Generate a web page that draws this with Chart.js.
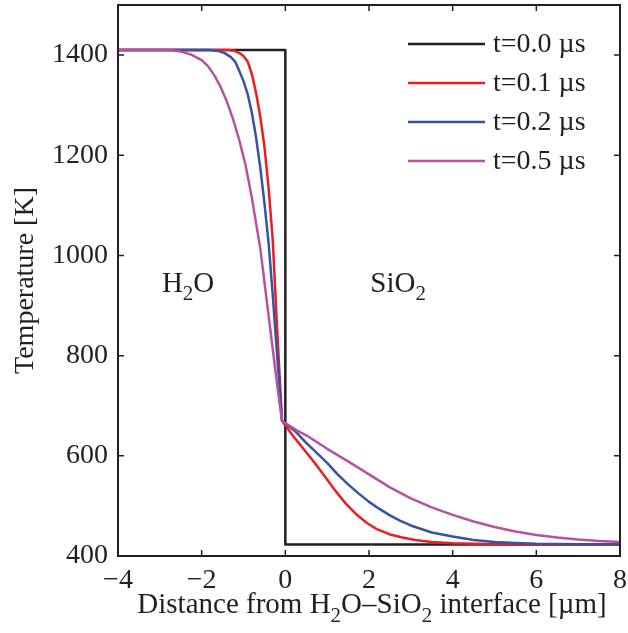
<!DOCTYPE html>
<html>
<head>
<meta charset="utf-8">
<script src="https://cdn.jsdelivr.net/npm/chart.js@4.4.0/dist/chart.umd.min.js"></script>
<style>
    html, body { margin: 0; padding: 0; background: #fff; }
    #grafico { display: block; }
</style>
</head>
<body>
<canvas id="grafico" width="628" height="633"></canvas>
<script>
// ticks
var xTicks = [-4, -2, 0, 2, 4, 6, 8]
var yTicks = [400, 600, 800, 1000, 1200, 1400]

var legendas = ['t=0.0 µs', 't=0.1 µs', 't=0.2 µs', 't=0.5 µs']
var cores = ['#231f20', '#ed1c24', '#3953a4', '#b6529f']

// t = 0.0 us
var distT0 = [-4, 0, 0, 8]
var tempT0 = [1410, 1410, 423, 423]

// t = 0.1 us
var distT1 = [-4, -1.35, -1.2, -1.1, -1.0, -0.9, -0.8, -0.7, -0.6, -0.5, -0.4, -0.3, -0.2, -0.08,
              0.2, 0.45, 0.7, 0.95, 1.2, 1.45, 1.7, 1.95, 2.2, 2.5, 2.8, 3.1, 3.5, 4, 5, 6, 8]
var tempT1 = [1410, 1410, 1408, 1404, 1398, 1387, 1362, 1325, 1278, 1218, 1135, 1030, 860, 670,
              638, 612, 586, 558, 530, 504, 483, 466, 453, 443, 437, 432, 428, 425.5, 423.5, 423, 423]

// t = 0.2 us
var distT2 = [-4, -1.8, -1.6, -1.45, -1.3, -1.2, -1.1, -1.0, -0.9, -0.8, -0.7, -0.6, -0.5, -0.4, -0.3, -0.2, -0.08,
              0.25, 0.5, 0.75, 1.0, 1.25, 1.5, 1.75, 2.0, 2.25, 2.5, 2.75, 3.0, 3.5, 4.0, 4.5, 5, 5.5, 6, 7, 8]
var tempT2 = [1410, 1410, 1408, 1404, 1396, 1387, 1368, 1348, 1322, 1285, 1236, 1176, 1105, 1025, 920, 805, 670,
              648, 626, 606, 586, 563, 543, 525, 508, 494, 481, 470, 461, 447, 439, 432, 428, 426, 424.5, 423.5, 423]

// t = 0.5 us
var distT5 = [-4, -2.75, -2.5, -2.25, -2.0, -1.85, -1.7, -1.55, -1.4, -1.25, -1.1, -0.95, -0.8, -0.6, -0.4, -0.2, -0.08,
              0.25, 0.5, 1.0, 1.5, 2.0, 2.5, 3.0, 3.5, 4.0, 4.5, 5.0, 5.5, 6.0, 6.5, 7.0, 7.5, 8]
var tempT5 = [1410, 1410, 1407, 1401, 1390, 1378, 1360, 1337, 1308, 1272, 1230, 1180, 1115, 1015, 880, 745, 670,
              652, 641, 614, 589, 563, 537, 515, 497, 482, 469, 458, 449, 442, 437, 433, 430, 428]

var FONTE = '"Liberation Serif", "Times New Roman", serif'
var COR_EIXO = '#231f20'

function pontos(xs, ys){
    return xs.map(function(x, i){ return { x: x, y: ys[i] } })
}

// texto com indice: '_' antes de um caractere = subscrito
function textoComIndice(ctx, texto, x, y, tamanho, alinhar){
    var partes = []
    for (var i = 0; i < texto.length; i++){
        if (texto[i] == '_'){
            partes.push({ t: texto[i + 1], sub: true })
            i++
        } else {
            if (partes.length && !partes[partes.length - 1].sub) partes[partes.length - 1].t += texto[i]
            else partes.push({ t: texto[i], sub: false })
        }
    }
    var fN = tamanho + 'px ' + FONTE
    var fS = Math.round(tamanho * 0.72) + 'px ' + FONTE
    var total = 0
    partes.forEach(function(p){
        ctx.font = p.sub ? fS : fN
        p.w = ctx.measureText(p.t).width
        total += p.w
    })
    var cx = alinhar == 'center' ? x - total / 2 : x
    ctx.textBaseline = 'alphabetic'
    ctx.textAlign = 'left'
    partes.forEach(function(p){
        ctx.font = p.sub ? fS : fN
        ctx.fillText(p.t, cx, p.sub ? y + tamanho * 0.3 : y)
        cx += p.w
    })
}

var molduraPlugin = {
    id: 'moldura',
    afterDatasetsDraw: function(chart){
        var ctx = chart.ctx
        var a = chart.chartArea
        var sx = chart.scales.x
        var sy = chart.scales.y
        ctx.save()
        ctx.strokeStyle = COR_EIXO
        ctx.lineWidth = 2
        ctx.strokeRect(a.left, a.top, a.right - a.left, a.bottom - a.top)

        // ticks para dentro
        var tam = 6
        ctx.beginPath()
        xTicks.forEach(function(v){
            var px = sx.getPixelForValue(v)
            ctx.moveTo(px, a.bottom); ctx.lineTo(px, a.bottom - tam)
            ctx.moveTo(px, a.top); ctx.lineTo(px, a.top + tam)
        })
        yTicks.forEach(function(v){
            var py = sy.getPixelForValue(v)
            ctx.moveTo(a.left, py); ctx.lineTo(a.left + tam, py)
            ctx.moveTo(a.right, py); ctx.lineTo(a.right - tam, py)
        })
        ctx.lineWidth = 1.5
        ctx.stroke()

        // legenda
        ctx.fillStyle = COR_EIXO
        chart.data.datasets.forEach(function(ds, i){
            var y = 44 + i * 39
            ctx.beginPath()
            ctx.strokeStyle = ds.borderColor
            ctx.lineWidth = 2.5
            ctx.moveTo(408, y); ctx.lineTo(485, y)
            ctx.stroke()
            ctx.font = '28px ' + FONTE
            ctx.textAlign = 'left'
            ctx.textBaseline = 'middle'
            ctx.fillText(ds.label, 493, y + 1)
        })

        // anotacoes
        textoComIndice(ctx, 'H_2O', sx.getPixelForValue(-2.95), sy.getPixelForValue(928), 29, 'left')
        textoComIndice(ctx, 'SiO_2', sx.getPixelForValue(2.03), sy.getPixelForValue(928), 29, 'left')

        // titulo do eixo x
        textoComIndice(ctx, 'Distance from H_2O\u2013SiO_2 interface [µm]', (a.left + a.right) / 2 + 3, 613, 29, 'center')
        ctx.restore()
    }
}

var datasets = [
    { label: legendas[0], data: pontos(distT0, tempT0), borderColor: cores[0], order: 4 },
    { label: legendas[1], data: pontos(distT1, tempT1), borderColor: cores[1], order: 3 },
    { label: legendas[2], data: pontos(distT2, tempT2), borderColor: cores[2], order: 2 },
    { label: legendas[3], data: pontos(distT5, tempT5), borderColor: cores[3], order: 1 }
].map(function(d){
    d.borderWidth = 2.5
    d.pointRadius = 0
    d.fill = false
    d.tension = 0
    d.borderJoinStyle = 'round'
    return d
})

new Chart(document.getElementById('grafico'), {
    type: 'line',
    data: { datasets: datasets },
    options: {
        responsive: false,
        animation: false,
        events: [],
        layout: { padding: { top: 5, right: 8, left: 0, bottom: 0 } },
        plugins: {
            legend: { display: false },
            tooltip: { enabled: false }
        },
        scales: {
            x: {
                type: 'linear',
                min: -4,
                max: 8,
                afterBuildTicks: function(scale){
                    scale.ticks = xTicks.map(function(v){ return { value: v } })
                },
                afterFit: function(scale){
                    scale.height = 77
                    scale.paddingLeft = 0
                    scale.paddingRight = 0
                },
                grid: { display: false, drawTicks: false },
                border: { display: false },
                ticks: {
                    padding: 8,
                    color: COR_EIXO,
                    font: { family: FONTE, size: 28 },
                    maxRotation: 0,
                    autoSkip: false,
                    callback: function(v){ return String(v).replace('-', '\u2212') }
                }
            },
            y: {
                type: 'linear',
                min: 400,
                max: 1500,
                afterBuildTicks: function(scale){
                    scale.ticks = yTicks.map(function(v){ return { value: v } })
                },
                afterFit: function(scale){
                    scale.width = 118
                    scale.paddingTop = 0
                    scale.paddingBottom = 0
                },
                grid: { display: false, drawTicks: false },
                border: { display: false },
                title: {
                    display: true,
                    text: 'Temperature [K]',
                    color: COR_EIXO,
                    font: { family: FONTE, size: 28 },
                    padding: { top: 9, bottom: 0 }
                },
                ticks: {
                    padding: 10,
                    color: COR_EIXO,
                    font: { family: FONTE, size: 28 },
                    autoSkip: false,
                    callback: function(v){ return String(v) }
                }
            }
        }
    },
    plugins: [molduraPlugin]
})
</script>
</body>
</html>
